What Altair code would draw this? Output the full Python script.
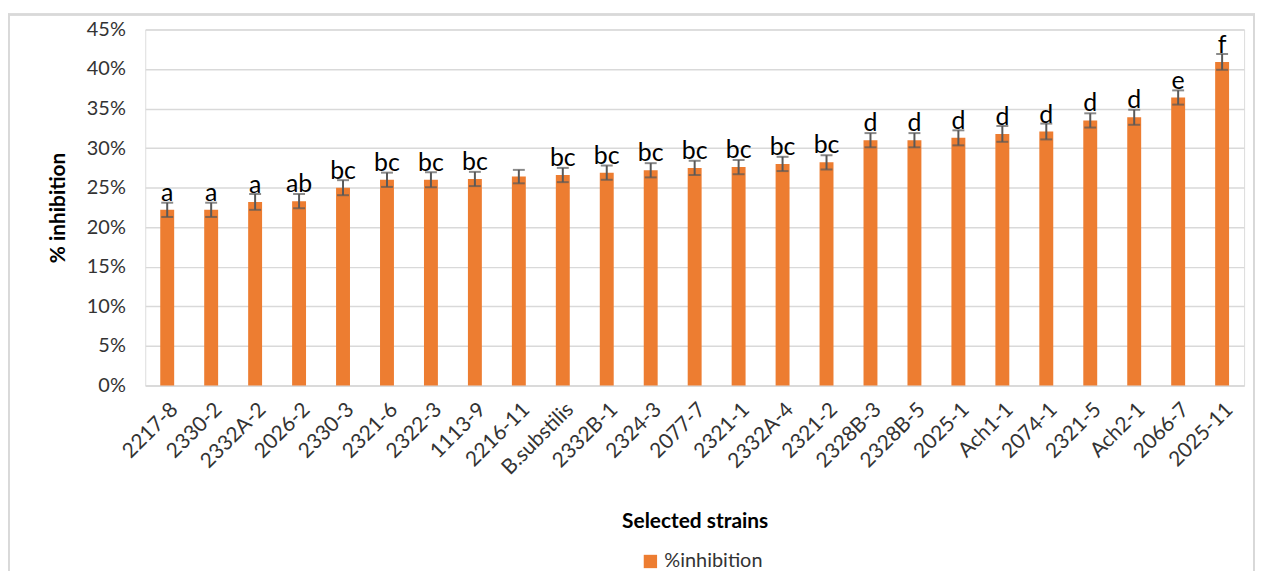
import altair as alt
import pandas as pd

strains = ["2217-8", "2330-2", "2332A-2", "2026-2", "2330-3", "2321-6", "2322-3",
           "1113-9", "2216-11", "B.substilis", "2332B-1", "2324-3", "2077-7",
           "2321-1", "2332A-4", "2321-2", "2328B-3", "2328B-5", "2025-1",
           "Ach1-1", "2074-1", "2321-5", "Ach2-1", "2066-7", "2025-11"]
values = [0.222, 0.222, 0.232, 0.233, 0.250, 0.260, 0.260, 0.261, 0.264, 0.266,
          0.269, 0.272, 0.275, 0.276, 0.280, 0.282, 0.310, 0.310, 0.313, 0.318,
          0.321, 0.335, 0.339, 0.364, 0.409]
errors = [0.009, 0.009, 0.010, 0.009, 0.0095, 0.009, 0.0095, 0.009, 0.0085, 0.009,
          0.009, 0.009, 0.009, 0.009, 0.009, 0.009, 0.009, 0.009, 0.0095, 0.010,
          0.010, 0.009, 0.0095, 0.009, 0.010]
letters = ["a", "a", "a", "ab", "bc", "bc", "bc", "bc", "", "bc", "bc", "bc", "bc",
           "bc", "bc", "bc", "d", "d", "d", "d", "d", "d", "d", "e", "f"]
y_ticks = [0.0, 0.05, 0.10, 0.15, 0.20, 0.25, 0.30, 0.35, 0.40, 0.45]
series = "%inhibition"

df = pd.DataFrame({
    "strain": strains,
    "value": values,
    "lo": [v - e for v, e in zip(values, errors)],
    "hi": [v + e for v, e in zip(values, errors)],
    "letter": letters,
    "series": [series] * len(strains),
})

FONT = "Lato"
W, H = 1105, 358

x_axis = alt.Axis(labelAngle=-45, labelFontSize=21, labelColor="#333333",
                  labelFont=FONT, ticks=False, domainColor="#d9d9d9",
                  domainWidth=1.5, titleFontSize=21, titleFont=FONT,
                  titleFontWeight="bold", titleColor="#000000",
                  titlePadding=33, labelPadding=13, labelOverlap=False)
y_axis = alt.Axis(values=y_ticks, format=".0%", labelOverlap=False,
                  labelFontSize=20, labelColor="#333333", labelFont=FONT,
                  ticks=False, domain=False, gridColor="#d9d9d9",
                  gridWidth=1.5, titleFontSize=21, titleFont=FONT,
                  titleFontWeight="bold", titleColor="#000000",
                  titlePadding=18, labelPadding=20)
x_scale = alt.Scale(paddingInner=0, paddingOuter=0)
y_scale = alt.Scale(domain=[0, 0.45])


def X():
    return alt.X("strain:N", sort=strains, title="Selected strains",
                 scale=x_scale, axis=x_axis)


def Y(field):
    return alt.Y(field, title="% inhibition", scale=y_scale, axis=y_axis)


base = alt.Chart(df)

bars = base.mark_bar(size=14, color="#ED7D31").encode(
    x=X(), y=Y("value:Q"),
    color=alt.Color("series:N", scale=alt.Scale(range=["#ED7D31"]),
                    legend=alt.Legend(title=None, orient="none", legendX=498,
                                      legendY=525, symbolType="square",
                                      symbolSize=180, labelFontSize=20,
                                      labelFont=FONT, labelColor="#333333",
                                      symbolStrokeWidth=0)),
)

err_rule = base.mark_rule(color="#595959", strokeWidth=2).encode(
    x=X(), y=Y("lo:Q"), y2="hi:Q")
cap_hi = base.mark_tick(color="#595959", thickness=2, size=12, orient="horizontal").encode(
    x=X(), y=Y("hi:Q"))
cap_lo = base.mark_tick(color="#595959", thickness=2, size=12, orient="horizontal").encode(
    x=X(), y=Y("lo:Q"))

labels = base.mark_text(fontSize=25, font=FONT, color="#000000",
                        baseline="alphabetic", dy=-9).encode(
    x=X(), y=Y("value:Q"), text="letter:N")

frame = base.mark_rect(fill=None, stroke="#d9d9d9", strokeWidth=1.5, clip=False).encode(
    x=alt.value(-137), x2=alt.value(1115), y=alt.value(-15), y2=alt.value(600))

chart = alt.layer(bars, err_rule, cap_hi, cap_lo, labels, frame).properties(
    width=W, height=H,
    autosize=alt.AutoSizeParams(type="none"),
    padding={"left": 138, "top": 20, "right": 16, "bottom": 185},
).configure_view(stroke=None).configure(background="#ffffff")

chart.save("out.html", embed_options={"renderer": "svg", "actions": False})
